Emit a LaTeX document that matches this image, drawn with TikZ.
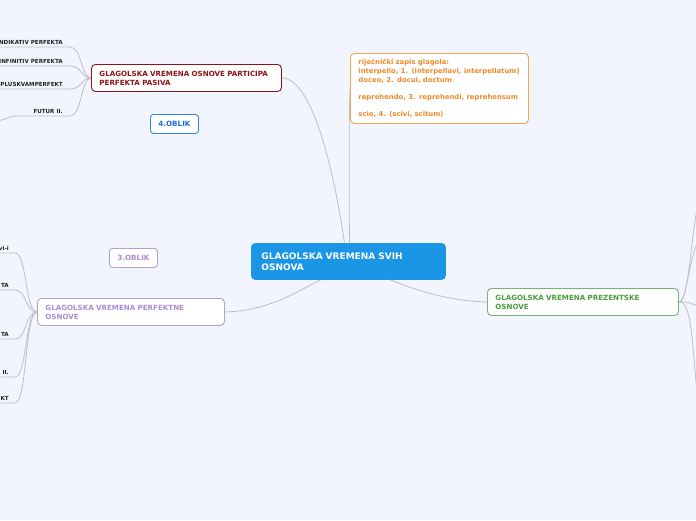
\documentclass[tikz,border=0pt]{standalone}
\usepackage{fontspec}
\setmainfont{DejaVu Sans}
\definecolor{bg}{HTML}{F2F5FE}
\definecolor{cblue}{HTML}{1B95E6}
\definecolor{cred}{HTML}{8C1414}
\definecolor{corb}{HTML}{F5A453}
\definecolor{cort}{HTML}{F08A28}
\definecolor{cobl}{HTML}{2A86E8}
\definecolor{cobt}{HTML}{1A6FD0}
\definecolor{cpur}{HTML}{B89CD8}
\definecolor{cpurt}{HTML}{AE8CD2}
\definecolor{cgrn}{HTML}{72B872}
\definecolor{cgrnt}{HTML}{4A9E3E}
\definecolor{conn}{HTML}{BEBEC6}
\definecolor{leaft}{HTML}{222222}
\tikzset{
  box/.style={anchor=north west, rounded corners=4pt, line width=0.9pt, fill=white,
    align=left, inner xsep=8pt, inner ysep=0pt, font=\bfseries\fontsize{7.1}{9}\selectfont},
  oblik/.style={anchor=north west, rounded corners=3pt, line width=0.9pt, fill=white,
    minimum width=48pt, minimum height=19pt, inner sep=0pt, font=\bfseries\fontsize{7.2}{8}\selectfont},
  leaf/.style={anchor=south east, inner ysep=2.5pt, text=leaft, font=\bfseries\fontsize{5.6}{6}\selectfont},
  conn/.style={draw=conn, line width=0.8pt}
}
\begin{document}
\begin{tikzpicture}[x=1pt,y=-1pt]
\useasboundingbox (0,0) rectangle (696,520);
\fill[bg] (0,0) rectangle (696,520);

% main nodes
\node[box, fill=cblue, draw=cblue, text=white, text width=174pt, minimum height=36pt, inner xsep=10pt,
  font=\bfseries\fontsize{9}{11}\selectfont] (c) at (251,243) {GLAGOLSKA VREMENA SVIH\\OSNOVA};
\node[box, draw=cred, text=cred, text width=174pt, minimum height=27pt] (pp) at (91,64)
  {GLAGOLSKA VREMENA OSNOVE PARTICIPA\\PERFEKTA PASIVA};
\node[box, draw=corb, text=cort, text width=162pt, minimum height=70pt,
  font=\bfseries\fontsize{6.85}{8.6}\selectfont] (o) at (350,53)
  {riječnički zapis glagola:\\interpello, 1. (interpellavi, interpellatum)\\doceo, 2. docui, doctum\\[8.6pt]reprehendo, 3. reprehendi, reprehensum\\[8.6pt]scio, 4. (scivi, scitum)};
\node[oblik, draw=cobl, text=cobt] (o4) at (150,114) {4.OBLIK};
\node[oblik, draw=cpur, text=cpurt] (o3) at (109,248) {3.OBLIK};
\node[box, draw=cpur, text=cpurt, text width=171pt, minimum height=27pt] (pf) at (37,298)
  {GLAGOLSKA VREMENA PERFEKTNE\\OSNOVE};
\node[box, draw=cgrn, text=cgrnt, text width=175pt, minimum height=27pt] (pz) at (487,288)
  {GLAGOLSKA VREMENA PREZENTSKE\\OSNOVE};

% central connectors
\draw[conn] (pp.east) .. controls (312,78) and (334,170) .. ([xshift=-4pt]c.north);
\draw[conn] ([xshift=1pt]c.north) .. controls (349,170) and (349,110) .. (o.west);
\draw[conn] (pf.east) .. controls (268,311) and (296,292) .. ([xshift=-28pt]c.south);
\draw[conn] ([xshift=42pt]c.south) .. controls (420,292) and (452,301) .. (pz.west);

% leaves of participa
\node[leaf, inner xsep=7pt] (l1) at (70,47) {INDIKATIV PERFEKTA};
\node[leaf, inner xsep=7pt] (l2) at (70,66) {INFINITIV PERFEKTA};
\node[leaf, inner xsep=7pt] (l3) at (70,89) {PLUSKVAMPERFEKT};
\node[leaf, inner xsep=7pt] (l4) at (70,116) {FUTUR II.};
\coordinate (l4s) at (17,116);
\coordinate (l5) at (-8,121);
\foreach \n in {l1,l2,l3}{
  \draw[conn] (\n.south west) -- (\n.south east) .. controls +(12,0) and +(-10,0) .. (pp.west);
}
\draw[conn] (l4s) -- (l4.south east) .. controls +(12,0) and +(-10,0) .. (pp.west);
\draw[conn] (l5) .. controls (6,121) and (8,116) .. (l4s);

% leaves of perfektne
\node[leaf, inner xsep=6pt] (p1) at (15,253) {vi-i};
\node[leaf, inner xsep=6pt] (p2) at (15,290) {TA};
\node[leaf, inner xsep=6pt] (p3) at (15,339) {TA};
\node[leaf, inner xsep=6pt] (p4) at (15,377) {II.};
\node[leaf, inner xsep=6pt] (p5) at (15,403) {KT};
\foreach \n in {p1,p2,p3,p4,p5}{
  \draw[conn] (\n.south west) -- (\n.south east) .. controls +(12,0) and +(-12,0) .. (pf.west);
}

% branches of prezentske (continuing off the picture)
\coordinate (r1) at (702,185);
\coordinate (r2) at (704,232);
\coordinate (r3) at (706,308);
\coordinate (r4) at (700,430);
\draw[conn] (pz.east) .. controls (690,301) and (690,230) .. (r1);
\draw[conn] (pz.east) .. controls (688,301) and (688,250) .. (r2);
\draw[conn] (pz.east) .. controls (690,301) and (694,306) .. (r3);
\draw[conn] (pz.east) .. controls (692,301) and (692,340) .. (r4);
\end{tikzpicture}
\end{document}
